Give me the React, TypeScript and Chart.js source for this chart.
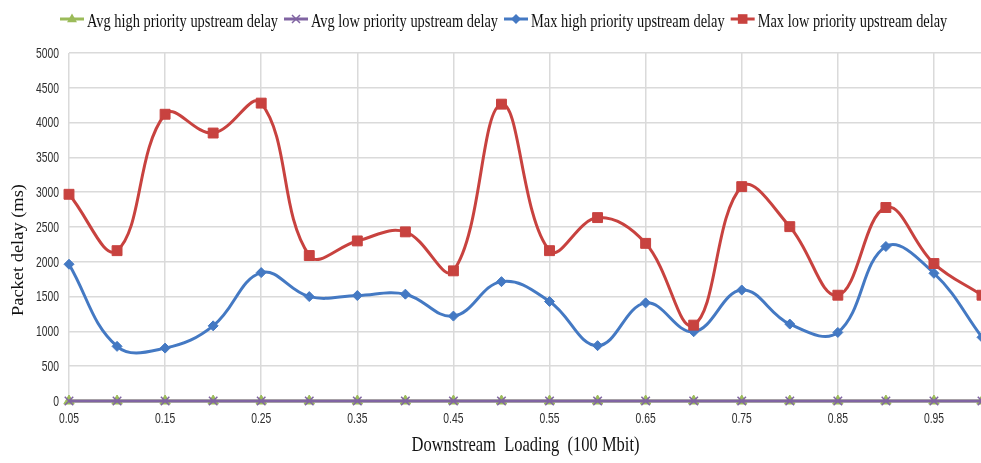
import React, { useEffect, useRef } from 'react';
import { Chart, registerables } from 'chart.js';

Chart.register(...registerables);

// Downstream loading levels (100 Mbit units)
const loadLabels = [
  '0.05', '0.10', '0.15', '0.20', '0.25', '0.30', '0.35', '0.40', '0.45', '0.50',
  '0.55', '0.60', '0.65', '0.70', '0.75', '0.80', '0.85', '0.90', '0.95', '1.00',
];

// Packet delay in ms
const avgHighDelay = [0, 0, 0, 0, 0, 0, 0, 0, 0, 0, 0, 0, 0, 0, 0, 0, 0, 0, 0, 0];
const avgLowDelay = [0, 0, 0, 0, 0, 0, 0, 0, 0, 0, 0, 0, 0, 0, 0, 0, 0, 0, 0, 0];
const maxHighDelay = [
  1965, 785, 760, 1080, 1845, 1500, 1515, 1535, 1220, 1715,
  1430, 795, 1410, 995, 1595, 1105, 985, 2220, 1835, 915,
];
const maxLowDelay = [
  2970, 2160, 4120, 3850, 4280, 2090, 2300, 2430, 1870, 4265,
  2160, 2635, 2265, 1090, 3080, 2505, 1520, 2780, 1975, 1520,
];

const yTickValues = [0, 500, 1000, 1500, 2000, 2500, 3000, 3500, 4000, 4500, 5000];

const seriesNames = [
  'Avg high priority upstream delay',
  'Avg low priority upstream delay',
  'Max high priority upstream delay',
  'Max low priority upstream delay',
];

const xTitle = 'Downstream  Loading  (100 Mbit)';
const yTitle = 'Packet delay (ms)';

const GREEN = '#9BBB59';
const PURPLE = '#8064A2';
const BLUE = '#4479C3';
const RED = '#C8423F';
const GRID = '#DADADA';
const seriesColors = [GREEN, PURPLE, BLUE, RED];
const seriesMarkers = ['triangle', 'crossRot', 'rectRot', 'rect'];

const SERIF = '"Liberation Serif", "Times New Roman", serif';
const SANS = '"Liberation Sans Narrow", "Liberation Sans", Arial, sans-serif';

function drawCondensed(
  ctx: CanvasRenderingContext2D,
  text: string,
  x: number,
  y: number,
  sx: number,
  align: CanvasTextAlign,
) {
  ctx.save();
  ctx.translate(x, y);
  ctx.scale(sx, 1);
  ctx.textAlign = align;
  ctx.fillText(text, 0, 0);
  ctx.restore();
}

function drawMarker(ctx: CanvasRenderingContext2D, kind: string, x: number, y: number, color: string) {
  ctx.save();
  ctx.fillStyle = color;
  ctx.strokeStyle = color;
  ctx.beginPath();
  if (kind === 'triangle') {
    const r = 5.5;
    ctx.moveTo(x, y - r);
    ctx.lineTo(x + r * 0.9, y + r * 0.6);
    ctx.lineTo(x - r * 0.9, y + r * 0.6);
    ctx.closePath();
    ctx.fill();
  } else if (kind === 'crossRot') {
    const r = 4;
    ctx.lineWidth = 1.5;
    ctx.moveTo(x - r, y - r);
    ctx.lineTo(x + r, y + r);
    ctx.moveTo(x + r, y - r);
    ctx.lineTo(x - r, y + r);
    ctx.stroke();
  } else if (kind === 'rectRot') {
    const r = 5;
    ctx.moveTo(x, y - r);
    ctx.lineTo(x + r, y);
    ctx.lineTo(x, y + r);
    ctx.lineTo(x - r, y);
    ctx.closePath();
    ctx.fill();
  } else {
    const h = 4.8;
    ctx.rect(x - h, y - h, 2 * h, 2 * h);
    ctx.fill();
  }
  ctx.restore();
}

// Axis labels, titles and the legend, drawn with condensed text
const delayTextPlugin = {
  id: 'delayText',
  afterDraw(chart: Chart) {
    const { ctx } = chart;
    const x = chart.scales.x;
    const y = chart.scales.y;
    ctx.save();

    // tick labels
    ctx.font = `14px ${SANS}`;
    ctx.fillStyle = '#2e2e2e';
    const tickSx = 23 / ctx.measureText('5000').width;
    ctx.textBaseline = 'middle';
    yTickValues.forEach((v) => {
      drawCondensed(ctx, String(v), 59, y.getPixelForValue(v) + 1, tickSx, 'right');
    });
    ctx.textBaseline = 'alphabetic';
    loadLabels.forEach((lab, i) => {
      if (i % 2 === 0) drawCondensed(ctx, lab, x.getPixelForValue(i), 423, tickSx, 'center');
    });

    // x axis title
    ctx.fillStyle = '#111111';
    ctx.font = `22px ${SERIF}`;
    const xtSx = 228 / ctx.measureText(xTitle).width;
    drawCondensed(ctx, xTitle, (chart.chartArea.left + chart.chartArea.right) / 2, 451, xtSx, 'center');

    // y axis title (glyph height condensed across the page)
    ctx.font = `20px ${SERIF}`;
    const ytLen = ctx.measureText(yTitle).width;
    ctx.save();
    ctx.translate(19, 250);
    ctx.rotate(-Math.PI / 2);
    ctx.scale(132 / ytLen, 0.85);
    ctx.textAlign = 'center';
    ctx.textBaseline = 'middle';
    ctx.fillText(yTitle, 0, 0);
    ctx.restore();

    // legend
    ctx.font = `19px ${SERIF}`;
    const legSx = 191 / ctx.measureText(seriesNames[0]).width;
    let cx = 60;
    const ly = 19;
    ctx.textBaseline = 'alphabetic';
    seriesNames.forEach((name, i) => {
      const color = seriesColors[i];
      ctx.save();
      ctx.strokeStyle = color;
      ctx.lineWidth = 3;
      ctx.beginPath();
      ctx.moveTo(cx, ly);
      ctx.lineTo(cx + 24, ly);
      ctx.stroke();
      ctx.restore();
      drawMarker(ctx, seriesMarkers[i], cx + 12, ly, color);
      cx += 27;
      ctx.fillStyle = '#111111';
      drawCondensed(ctx, name, cx, 27, legSx, 'left');
      cx += ctx.measureText(name).width * legSx + 6;
    });

    ctx.restore();
  },
};

export default function App() {
  const ref = useRef<HTMLCanvasElement>(null);

  useEffect(() => {
    document.body.style.margin = '0';
    const canvas = ref.current;
    if (!canvas) return;

    const common = { borderWidth: 3, tension: 0.4, clip: false as const };

    const chart = new Chart(canvas, {
      type: 'line',
      data: {
        labels: loadLabels,
        datasets: [
          {
            ...common,
            label: seriesNames[0],
            data: avgHighDelay,
            borderColor: GREEN,
            backgroundColor: GREEN,
            pointStyle: 'triangle',
            pointRadius: 6,
            pointBorderWidth: 1,
            order: 3,
          },
          {
            ...common,
            label: seriesNames[1],
            data: avgLowDelay,
            borderColor: PURPLE,
            backgroundColor: PURPLE,
            pointStyle: 'crossRot',
            pointRadius: 6,
            pointBorderWidth: 1.5,
            order: 2,
          },
          {
            ...common,
            label: seriesNames[2],
            data: maxHighDelay,
            borderColor: BLUE,
            backgroundColor: BLUE,
            pointStyle: 'rectRot',
            pointRadius: 5,
            pointBorderWidth: 1,
            order: 1,
          },
          {
            ...common,
            label: seriesNames[3],
            data: maxLowDelay,
            borderColor: RED,
            backgroundColor: RED,
            pointStyle: 'rect',
            pointRadius: 7,
            pointBorderWidth: 1,
            order: 0,
          },
        ],
      },
      options: {
        responsive: false,
        animation: false,
        devicePixelRatio: 1,
        layout: { padding: { left: 69, right: 7, top: 53, bottom: 62 } },
        plugins: {
          legend: { display: false },
          tooltip: { enabled: false },
        },
        scales: {
          x: {
            type: 'category',
            offset: false,
            ticks: { display: false, autoSkip: false },
            grid: {
              color: (c: any) => (c.index % 2 === 0 ? GRID : 'rgba(0,0,0,0)'),
              lineWidth: 1.5,
              drawTicks: false,
            },
            border: { display: false },
          },
          y: {
            min: 0,
            max: 5000,
            ticks: { display: false, stepSize: 500 },
            grid: { color: GRID, lineWidth: 1.5, drawTicks: false },
            border: { display: false },
          },
        },
      },
      plugins: [delayTextPlugin],
    });

    return () => chart.destroy();
  }, []);

  return (
    <div style={{ width: 981, height: 463, overflow: 'hidden', background: '#ffffff' }}>
      <canvas ref={ref} width={990} height={463} style={{ display: 'block', width: 990, height: 463 }} />
    </div>
  );
}
